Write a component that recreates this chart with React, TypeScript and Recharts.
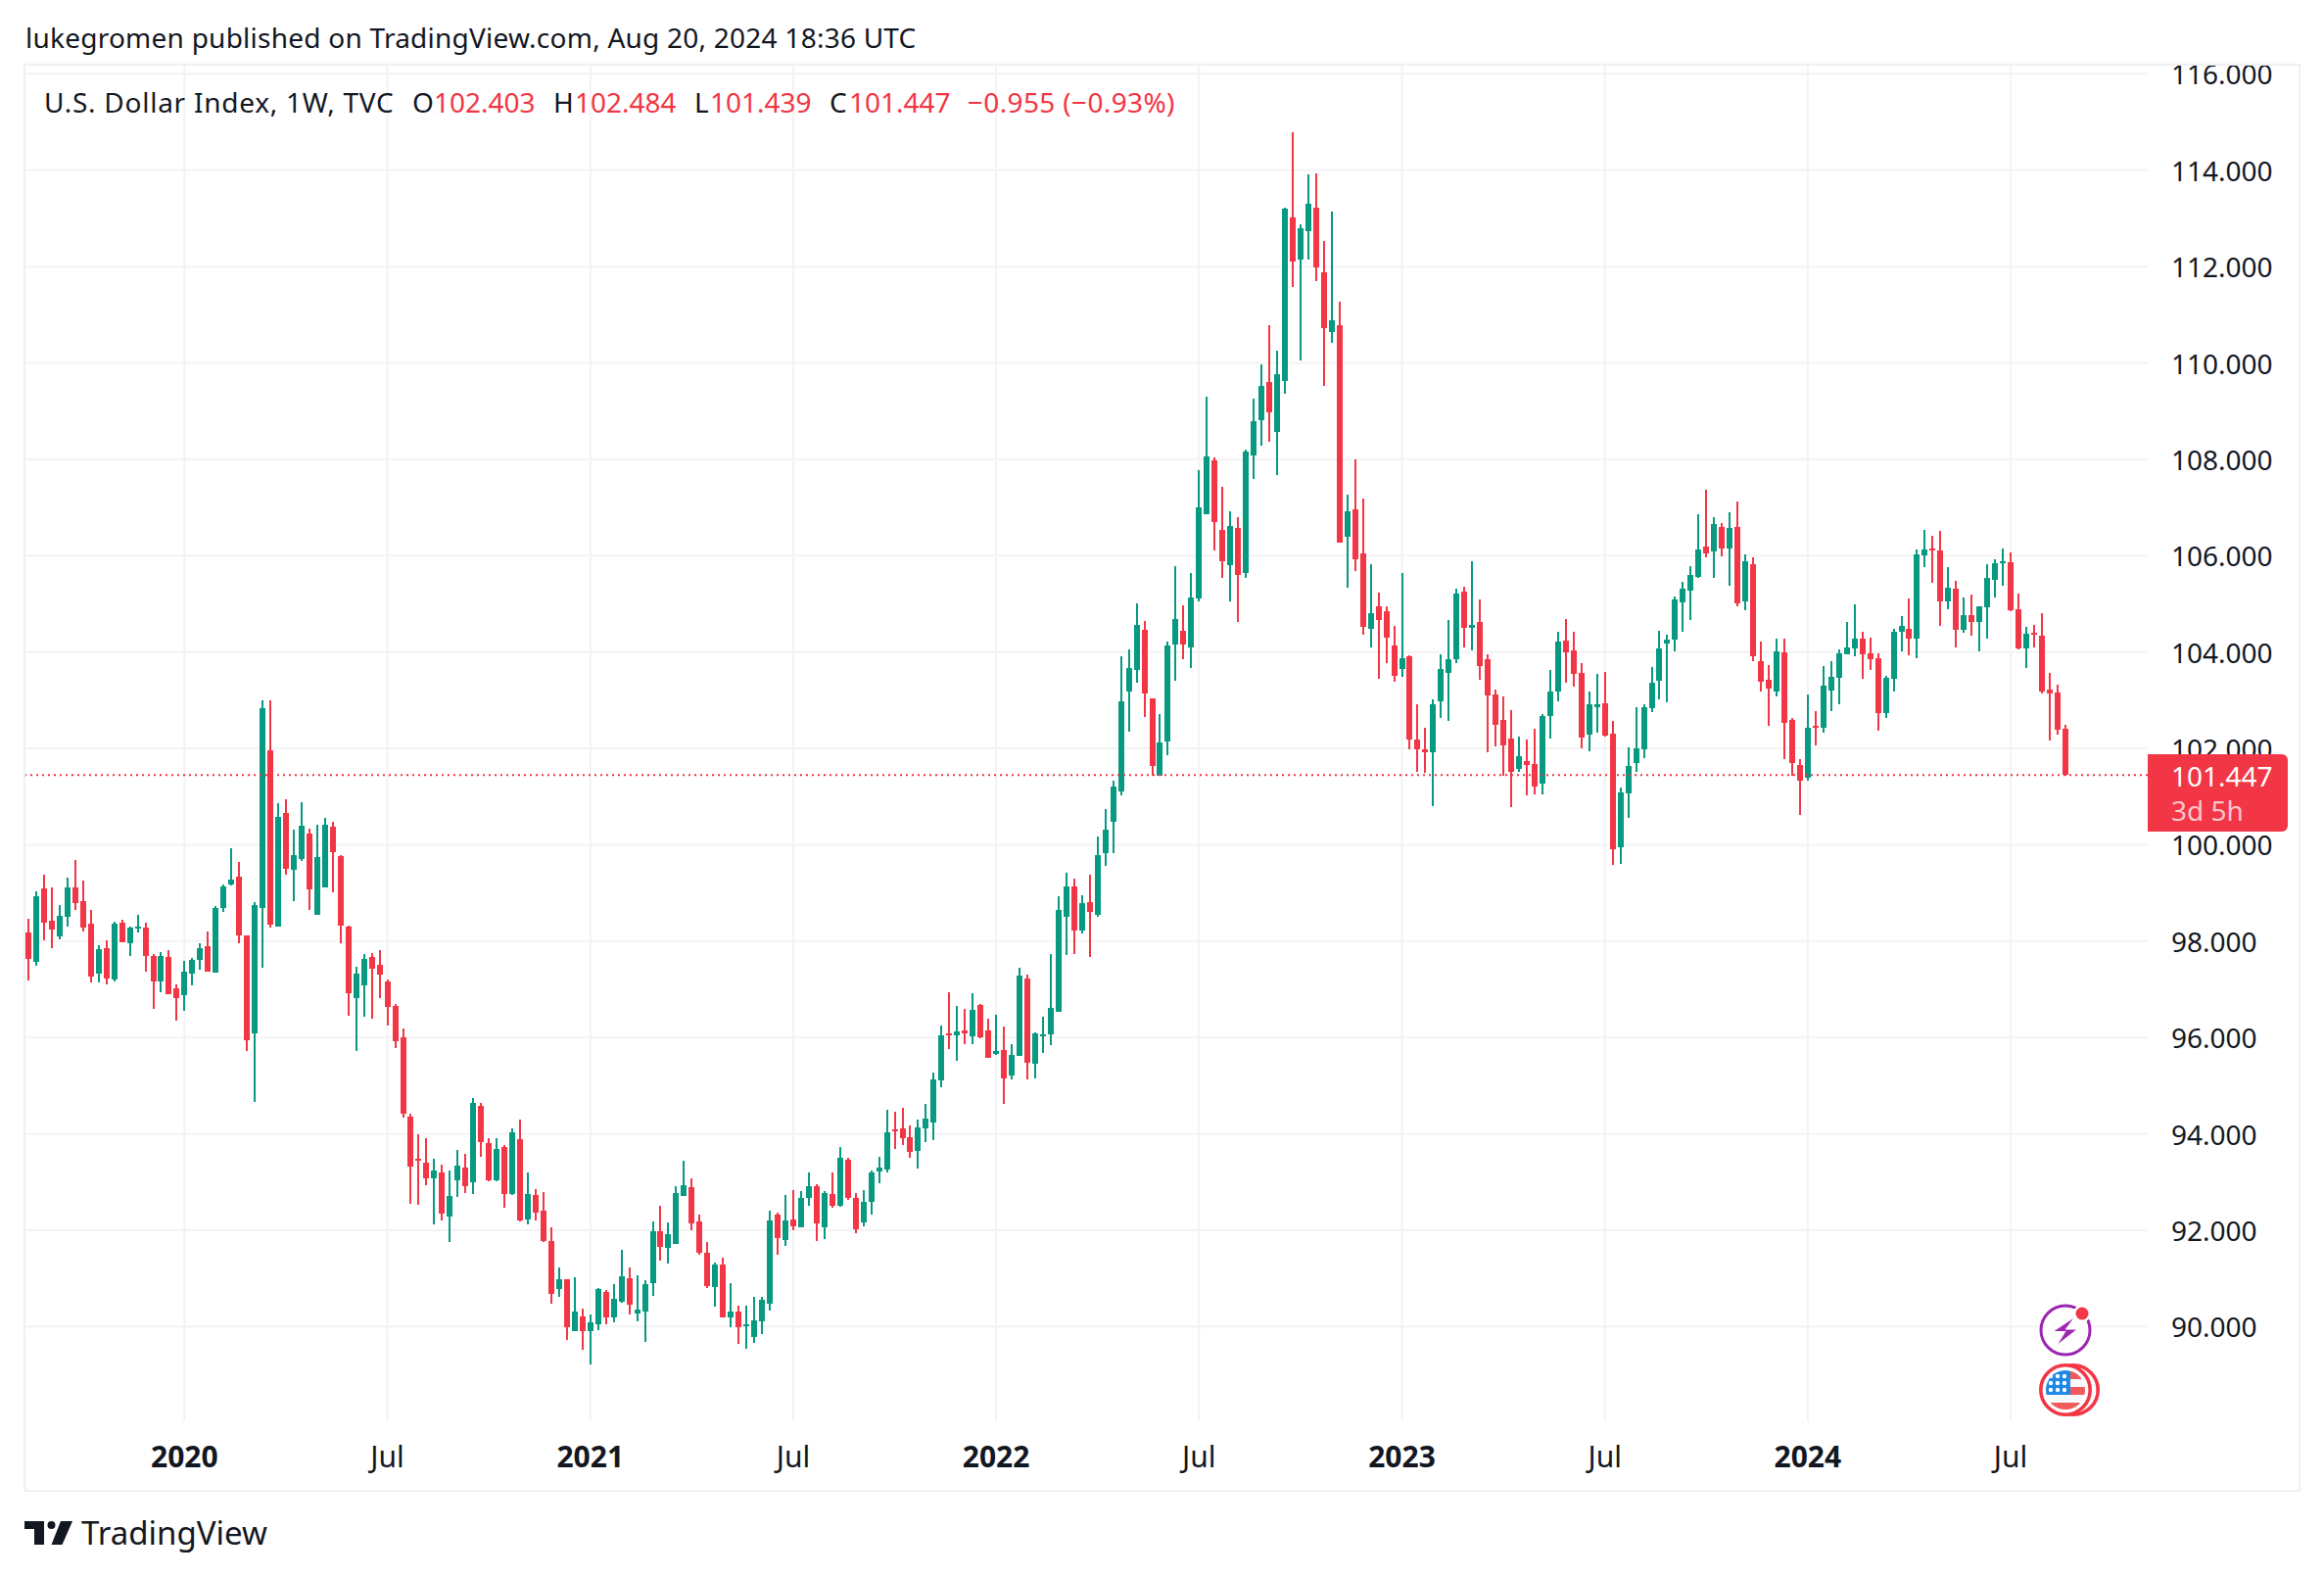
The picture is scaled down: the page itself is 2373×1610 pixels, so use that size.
import React from "react";
import {
  Bar,
  CartesianGrid,
  ComposedChart,
  ReferenceLine,
  XAxis,
  YAxis,
} from "recharts";

// weekly candles, Sep 2019 to Aug 2024
const opens = [
  98.18,97.57,99.09,98.42,98.10,98.51,99.11,98.83,98.36,97.33,
  97.85,97.21,98.38,97.96,98.26,98.28,97.69,97.16,97.67,97.02,
  96.88,97.33,97.61,97.90,97.35,98.69,99.18,99.34,98.12,96.09,
  98.69,101.96,98.30,100.66,99.48,99.70,100.23,98.55,99.11,100.38,
  99.77,98.30,96.82,97.08,97.67,97.51,97.16,96.66,96.01,94.36,
  93.48,93.40,93.07,93.20,92.28,93.03,93.30,92.99,94.58,93.81,
  93.03,93.73,92.75,93.89,92.22,92.73,92.40,91.77,90.78,90.98,
  89.90,90.22,89.90,90.04,90.71,90.20,90.51,91.00,90.27,90.31,
  90.90,91.98,91.63,91.71,92.71,92.89,92.18,91.53,90.82,91.28,
  90.20,90.31,90.00,89.78,90.10,90.48,92.32,91.79,92.23,92.07,
  92.68,92.91,92.05,92.76,92.50,93.46,92.68,92.17,92.58,93.21,
  93.25,94.09,94.11,93.94,93.64,94.11,94.23,95.10,96.08,96.04,
  96.14,96.02,96.67,96.14,95.65,95.73,95.21,95.61,97.22,95.45,
  96.02,96.06,96.53,98.51,99.14,98.21,98.80,98.54,99.82,100.48,
  101.10,103.19,103.63,104.47,103.03,101.44,102.15,104.16,104.45,104.10,
  105.11,106.86,107.98,106.54,105.80,106.57,105.64,108.08,108.81,109.60,
  108.57,109.62,113.02,112.15,112.73,113.22,111.88,110.64,110.79,106.39,
  106.96,106.05,104.48,104.94,104.84,104.13,103.64,103.92,102.18,101.99,
  101.91,102.97,103.56,103.86,105.26,104.51,104.63,103.86,103.11,102.60,
  102.20,101.57,101.73,101.67,101.26,102.68,103.17,104.23,104.04,103.56,
  102.28,102.85,102.93,102.30,99.94,101.06,101.69,101.99,102.83,103.41,
  104.17,104.25,105.04,105.28,105.55,106.18,106.08,106.59,106.14,106.59,
  105.06,105.82,103.82,103.42,103.17,103.99,102.60,101.65,101.40,102.46,
  102.42,103.21,103.46,103.95,104.07,104.27,103.97,103.88,102.73,103.44,
  104.41,104.49,104.27,106.00,106.14,106.10,105.06,105.31,104.47,104.76,
  104.62,104.92,105.49,105.84,105.86,104.88,104.07,104.39,104.33,103.23,
  103.15,102.403,
];
const highs = [
  98.47,99.03,99.38,99.11,98.75,99.32,99.68,99.26,98.65,97.92,
  98.02,98.40,98.45,98.30,98.55,98.38,97.73,97.77,97.81,97.10,
  97.59,97.65,97.96,98.20,98.73,99.18,99.93,99.64,98.12,98.81,
  102.99,102.99,100.86,100.94,100.31,100.88,100.33,100.42,100.56,100.48,
  99.79,98.32,97.47,97.73,97.75,97.81,97.21,96.70,96.19,94.42,
  93.99,93.91,93.48,93.36,93.24,93.66,93.58,94.74,94.64,93.91,
  93.91,93.77,94.11,94.30,93.20,92.85,92.79,92.06,91.22,90.98,
  91.02,90.37,90.25,90.80,90.76,90.88,91.59,91.22,91.06,90.96,
  92.18,92.50,92.16,92.91,93.44,93.07,92.32,91.75,91.32,91.43,
  90.90,90.43,90.43,90.61,90.61,92.40,92.36,92.74,92.84,92.82,
  93.19,92.95,92.82,93.19,93.72,93.50,92.78,92.84,93.23,93.52,
  94.49,94.45,94.55,94.17,94.29,94.62,95.27,96.24,96.94,96.65,
  96.59,96.92,96.69,96.39,96.47,96.22,95.86,97.44,97.30,96.10,
  96.43,97.73,98.93,99.42,99.30,98.96,99.37,100.18,100.75,101.32,
  103.92,104.06,105.00,104.65,103.04,102.72,104.21,105.79,104.96,105.63,
  107.78,109.30,108.04,107.43,106.92,106.80,108.21,109.26,109.97,110.79,
  110.25,113.22,114.78,112.87,113.91,113.93,112.53,113.14,111.27,107.26,
  108.00,107.19,105.82,105.24,104.94,104.55,105.63,103.94,102.91,102.42,
  103.01,103.96,104.67,105.32,105.36,105.89,105.10,103.96,103.23,103.07,
  102.80,102.24,102.18,102.40,102.72,103.62,104.43,104.69,104.41,103.76,
  103.17,103.54,103.58,102.56,101.18,102.03,102.85,102.91,103.68,104.45,
  104.35,105.16,105.45,105.79,106.85,107.36,106.79,106.67,106.89,107.12,
  106.02,105.96,104.21,103.72,104.27,104.27,102.64,101.77,103.11,102.77,
  103.70,103.82,104.05,104.62,104.98,104.41,104.29,103.97,103.50,104.49,
  104.74,105.11,106.12,106.53,106.41,106.51,105.76,105.47,105.13,105.19,
  104.94,105.82,105.92,106.14,106.06,105.21,104.52,104.56,104.80,103.56,
  103.32,102.484,
];
const lows = [
  97.18,97.49,98.02,97.85,98.04,98.30,98.65,98.20,97.14,97.14,
  97.10,97.17,97.98,97.69,98.18,97.37,96.60,96.94,96.90,96.35,
  96.56,97.08,97.41,97.37,97.35,98.61,99.16,97.96,95.72,94.67,
  97.45,98.28,98.30,99.38,98.83,99.66,98.65,98.55,99.11,99.01,
  97.96,96.45,95.72,96.43,96.39,96.82,96.25,95.78,94.34,92.55,
  92.52,92.93,92.12,92.20,91.75,92.69,92.77,92.75,93.52,93.01,
  93.01,92.46,92.73,92.18,92.12,92.20,91.75,90.47,90.61,89.72,
  89.90,89.51,89.21,89.92,90.04,90.08,90.49,90.25,90.10,89.68,
  90.63,91.37,91.30,91.71,92.71,92.00,91.49,90.80,90.41,90.18,
  89.98,89.64,89.53,89.66,89.84,90.34,91.50,91.68,91.99,92.07,
  92.50,91.77,91.81,92.46,92.48,92.62,91.93,92.09,92.32,92.97,
  93.19,93.68,93.76,93.50,93.27,93.82,93.86,94.96,95.75,95.51,
  95.86,95.86,95.98,95.57,95.63,94.62,95.12,95.61,95.12,95.16,
  95.67,95.84,96.53,97.71,97.73,98.15,97.68,98.51,99.57,99.82,
  101.03,102.35,103.37,102.66,101.44,101.44,101.85,103.41,103.86,103.67,
  105.05,106.86,106.11,105.54,105.05,104.63,105.54,107.59,108.28,108.36,
  107.67,109.36,111.58,110.05,112.15,111.70,109.52,110.41,106.27,105.34,
  105.68,104.36,104.10,103.45,103.76,103.39,103.48,101.99,101.52,101.50,
  100.81,102.64,102.58,103.76,104.10,104.04,103.43,101.91,102.05,101.44,
  100.79,101.52,101.02,101.04,101.04,102.20,102.97,103.37,103.29,102.01,
  101.93,102.32,102.24,99.58,99.60,100.55,101.52,101.79,102.76,103.01,
  102.95,104.02,104.43,104.67,105.53,105.96,105.53,105.98,105.37,104.94,
  104.86,103.82,103.17,102.46,103.07,101.77,101.44,100.61,101.34,102.07,
  102.32,102.77,102.91,103.95,103.91,103.44,103.62,102.36,102.64,103.17,
  104.01,103.93,103.88,105.76,105.43,104.54,104.88,104.09,104.39,104.33,
  104.01,104.27,105.13,105.37,104.84,104.05,103.66,104.09,103.13,102.16,
  102.28,101.439,
];
const closes = [
  97.63,98.93,98.38,98.24,98.53,99.11,98.79,98.28,97.27,97.83,
  97.23,98.36,97.98,98.28,98.30,97.69,97.16,97.69,96.90,96.82,
  97.37,97.61,97.85,97.37,98.69,99.14,99.28,98.12,95.95,98.75,
  102.83,98.34,100.58,99.50,99.79,100.40,99.07,99.75,100.42,99.85,
  98.32,96.92,97.33,97.63,97.43,97.31,96.64,95.92,94.42,93.32,
  93.44,93.07,93.24,92.34,92.71,93.34,92.91,94.64,93.83,93.03,
  93.69,92.75,94.03,92.20,92.75,92.36,91.77,90.67,90.98,89.98,
  90.31,89.90,90.08,90.78,90.20,90.57,91.04,90.45,90.35,90.88,
  91.98,91.65,91.91,92.77,92.93,92.14,91.53,90.84,91.28,90.20,
  90.31,89.98,90.04,90.12,90.55,92.21,91.83,92.21,92.09,92.68,
  92.91,92.15,92.78,92.50,93.50,92.66,92.01,92.58,93.19,93.31,
  94.03,94.05,93.90,93.62,94.13,94.31,95.12,96.04,96.04,96.12,
  96.08,96.57,96.00,95.57,95.71,95.14,95.63,97.28,95.47,96.08,
  96.06,96.61,98.65,99.14,98.22,98.78,98.61,99.79,100.32,101.21,
  102.97,103.66,104.57,103.14,101.64,102.13,104.14,104.69,104.16,105.14,
  107.00,108.06,106.70,105.89,106.62,105.60,108.16,108.79,109.52,108.97,
  109.77,113.20,112.10,112.80,113.30,111.98,110.72,110.89,106.27,106.92,
  105.92,104.53,104.81,104.67,104.29,103.50,103.88,102.18,101.99,101.91,
  102.91,103.64,103.86,105.22,104.51,104.57,103.70,103.09,102.48,102.07,
  101.52,101.83,101.65,101.20,102.68,103.19,104.21,104.00,103.54,102.22,
  102.91,102.91,102.26,99.90,101.08,101.63,102.01,102.85,103.37,104.08,
  104.25,105.10,105.32,105.59,106.12,106.04,106.65,106.14,106.57,105.00,
  105.88,103.91,103.38,103.25,104.01,102.52,101.69,101.32,102.42,102.42,
  103.30,103.48,103.97,104.09,104.27,103.95,103.86,102.73,103.46,104.43,
  104.54,104.27,106.02,106.12,106.10,105.06,105.33,104.47,104.76,104.62,
  104.94,105.53,105.84,105.88,104.86,104.07,104.37,104.35,103.19,103.13,
  102.38,101.447,
];

const priceTicks = [90, 92, 94, 96, 98, 100, 102, 104, 106, 108, 110, 112, 114, 116];
const timeTicks = [20, 46, 72, 98, 124, 150, 176, 202, 228, 254];
const timeLabels = ["2020", "Jul", "2021", "Jul", "2022", "Jul", "2023", "Jul", "2024", "Jul"];

const lastClose = 101.447;

const RED = "#f23645";
const GREEN = "#089981";
const INK = "#131722";
const GRID = "#f3f3f3";
const FRAME = "#f0f0f5";
const FONT = '"Noto Sans", sans-serif';

const candles = opens.map((open, i) => ({
  i,
  open,
  high: highs[i],
  low: lows[i],
  close: closes[i],
}));

function Candle(props: any) {
  const { x, y, width, height, payload } = props;
  const { open, high, low, close } = payload;
  const color = close >= open ? GREEN : RED;
  const perUnit = height / (high - low);
  const cx = Math.round(x + width / 2);
  const top = Math.round(y);
  const bottom = Math.round(y + height);
  const bodyTop = Math.round(y + (high - Math.max(open, close)) * perUnit);
  const bodyBottom = Math.round(y + (high - Math.min(open, close)) * perUnit);
  return (
    <g>
      <rect x={cx - 1} y={top} width={2} height={Math.max(bottom - top, 1)} fill={color} />
      <rect
        x={cx - 3}
        y={bodyTop}
        width={6}
        height={Math.max(bodyBottom - bodyTop, 2)}
        fill={color}
      />
    </g>
  );
}

function TimeTick(props: any) {
  const { x, y, payload } = props;
  const label = timeLabels[timeTicks.indexOf(payload.value)];
  return (
    <text
      x={x}
      y={y + 39}
      textAnchor="middle"
      fontFamily={FONT}
      fontSize={30}
      fontWeight={label === "Jul" ? 400 : 700}
      fill={INK}
    >
      {label}
    </text>
  );
}

function PriceTick(props: any) {
  const { x, y, payload } = props;
  return (
    <text x={x} y={y + 11} fontFamily={FONT} fontSize={28} fill={INK}>
      {payload.value.toFixed(3)}
    </text>
  );
}

function Label({ left, top, color = INK, size = 28, spacing = 0, children }: any) {
  return (
    <div
      style={{
        position: "absolute",
        left,
        top,
        color,
        fontFamily: FONT,
        fontSize: size,
        letterSpacing: spacing,
        lineHeight: "38px",
        whiteSpace: "pre",
      }}
    >
      {children}
    </div>
  );
}

const flagStars = [
  [2093, 1405], [2100, 1405], [2107, 1405],
  [2093, 1412], [2100, 1412], [2107, 1412],
  [2093, 1419], [2100, 1419], [2107, 1419],
];

function Badges() {
  return (
    <svg
      width={2373}
      height={1610}
      style={{ position: "absolute", left: 0, top: 0, pointerEvents: "none" }}
    >
      <defs>
        <clipPath id="flagClip">
          <circle cx={2109} cy={1419} r={20} />
        </clipPath>
      </defs>
      {/* event badge */}
      <circle cx={2109} cy={1358} r={25} fill="#fff" stroke="#9c27b0" strokeWidth={3} />
      <polygon
        points="2117,1346 2097.5,1359 2109.5,1359 2101.5,1372 2120,1357.5 2108.5,1357.5"
        fill="#9c27b0"
      />
      <circle cx={2126} cy={1341} r={9} fill="#fff" />
      <circle cx={2126} cy={1341} r={6.5} fill={RED} />
      {/* country badge */}
      <circle cx={2117} cy={1419} r={25.2} fill="#fff" stroke={RED} strokeWidth={3.6} />
      <circle cx={2109} cy={1419} r={25.2} fill="#fff" stroke={RED} strokeWidth={3.6} />
      <g clipPath="url(#flagClip)">
        <rect x={2089} y={1399} width={40} height={40} fill="#f8f9fd" />
        <rect x={2114} y={1399} width={15} height={9} fill="#f05a5a" />
        <rect x={2114} y={1416} width={15} height={8} fill="#f05a5a" />
        <rect x={2089} y={1432} width={40} height={8} fill="#f05a5a" />
        <rect x={2089} y={1399} width={25} height={25} fill="#1e88e5" />
        {flagStars.map(([cx, cy]) => (
          <circle key={`${cx}-${cy}`} cx={cx + 1} cy={cy} r={2.2} fill="#fff" />
        ))}
      </g>
      {/* TradingView mark */}
      <path d="M25 1553H45V1577H35V1561H25Z" fill={INK} />
      <circle cx={52.5} cy={1557} r={4} fill={INK} />
      <polygon points="62,1553 74,1553 63.5,1577 52.5,1577" fill={INK} />
    </svg>
  );
}

export default function App() {
  return (
    <div
      style={{
        position: "absolute",
        left: 0,
        top: 0,
        width: 2373,
        height: 1610,
        background: "#fff",
        overflow: "hidden",
      }}
    >
      <Label left={26} top={19} spacing={0.24}>
        lukegromen published on TradingView.com, Aug 20, 2024 18:36 UTC
      </Label>

      <div
        style={{
          position: "absolute",
          left: 24,
          top: 65,
          width: 2325,
          height: 1458,
          boxSizing: "border-box",
          border: `2px solid ${FRAME}`,
        }}
      >
        <ComposedChart
          width={2321}
          height={1454}
          data={candles}
          margin={{ top: 0, right: 0, bottom: 0, left: 0 }}
        >
          <CartesianGrid
            stroke={GRID}
            strokeWidth={2}
            horizontalValues={priceTicks}
            verticalValues={timeTicks}
          />
          <XAxis
            dataKey="i"
            type="number"
            domain={[-0.376, 271.56]}
            ticks={timeTicks}
            interval={0}
            height={70}
            axisLine={false}
            tickLine={false}
            tick={<TimeTick />}
          />
          <YAxis
            orientation="right"
            type="number"
            domain={[88.035, 116.17]}
            ticks={priceTicks}
            interval={0}
            width={154}
            axisLine={false}
            tickLine={false}
            tickMargin={18}
            tick={<PriceTick />}
          />
          <ReferenceLine
            y={lastClose}
            stroke={RED}
            strokeWidth={2}
            strokeDasharray="2 4"
          />
          <Bar
            dataKey={(d: any) => [d.low, d.high]}
            barSize={6}
            shape={<Candle />}
            isAnimationActive={false}
          />
        </ComposedChart>
      </div>

      <Label left={45} top={85} spacing={0.75}>U.S. Dollar Index, 1W, TVC</Label>
      <Label left={421} top={85}>O</Label>
      <Label left={443} top={85} color={RED}>102.403</Label>
      <Label left={565} top={85}>H</Label>
      <Label left={587} top={85} color={RED}>102.484</Label>
      <Label left={709} top={85}>L</Label>
      <Label left={725} top={85} color={RED}>101.439</Label>
      <Label left={847} top={85}>C</Label>
      <Label left={867} top={85} color={RED}>101.447</Label>
      <Label left={988} top={85} color={RED} spacing={0.35}>−0.955 (−0.93%)</Label>

      <div
        style={{
          position: "absolute",
          left: 2193,
          top: 770,
          width: 143,
          height: 79,
          background: RED,
          borderRadius: "0 6px 6px 0",
        }}
      />
      <Label left={2217} top={773} color="#fff">101.447</Label>
      <Label left={2217} top={808} color="rgba(255,255,255,0.72)">3d 5h</Label>

      <Badges />
      <Label left={83} top={1546} size={33}>TradingView</Label>
    </div>
  );
}
